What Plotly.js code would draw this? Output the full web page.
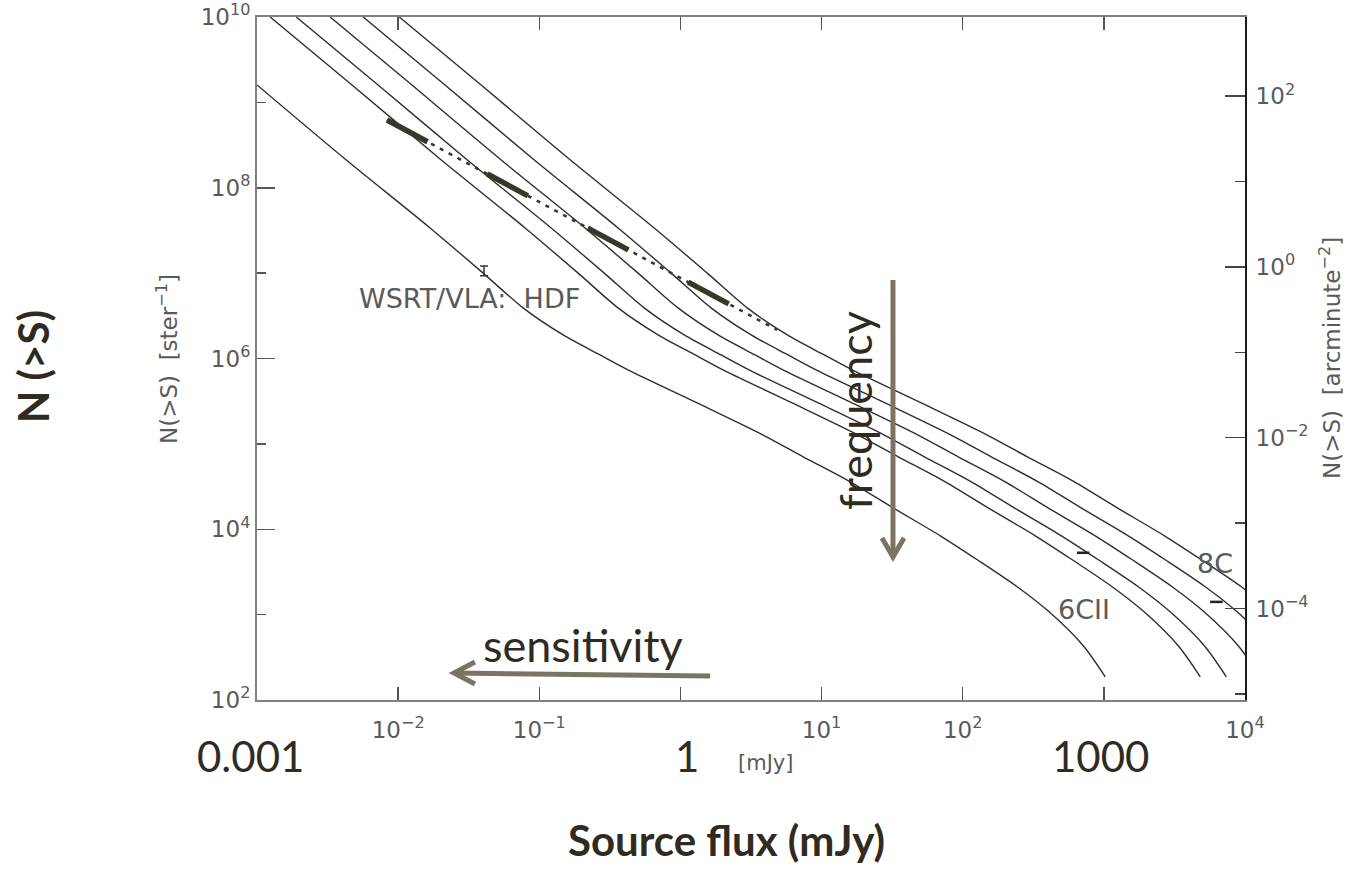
<!DOCTYPE html>
<html><head><meta charset="utf-8">
<script src="https://cdn.plot.ly/plotly-3.0.1.min.js"></script>
<style>html,body{margin:0;padding:0;background:#fff}</style>
</head><body><div id="chart" style="width:1346px;height:869px"></div>
<script>
// ---- data (S in mJy, N(>S) in sr^-1) ----
const countsA = [1.60e9, 2.17e8, 3.38e7, 1.00e7, 3.92e6, 1.89e6, 1.10e6, 7.16e5, 3.02e5, 1.27e5, 7.05e4, 3.59e4, 1.78e4, 8.38e3, 4.39e3, 2.12e3, 1.05e3, 432, 187];
const fluxA   = [0.001, 0.004207, 0.01683, 0.0400, 0.0767, 0.1476, 0.270, 0.4395, 1.312, 3.855, 7.413, 15.96, 32.14, 69.34, 126.8, 243.2, 416.9, 714.5, 1023];

const countsBF = [1e10, 1.60e9, 2.17e8, 3.38e7, 1.00e7, 3.92e6, 1.89e6, 1.10e6, 7.16e5, 3.02e5, 1.27e5, 7.05e4, 3.59e4, 1.78e4, 8.38e3, 4.39e3, 2.12e3, 1.05e3, 432, 187];
const fluxB = [0.001239, 0.00471, 0.01982, 0.0793, 0.1884, 0.3613, 0.695, 1.272, 2.070, 6.18, 18.16, 34.92, 75.2, 151.4, 326.6, 597, 1145, 1964, 3365, 4819];
const fluxC = [0.001897, 0.00721, 0.03034, 0.1214, 0.2884, 0.5531, 1.064, 1.947, 3.169, 9.46, 27.80, 53.46, 115.1, 231.8, 500, 914, 1754, 3006, 5152, 7377];
const fluxD = [0.003296, 0.01253, 0.0527, 0.2109, 0.501, 0.961, 1.849, 3.383, 5.507, 16.44, 48.30, 92.9, 200.0, 402.7, 868.8, 1589, 3047, 5224, 8953, 12818];
const fluxE = [0.005649, 0.02148, 0.0904, 0.3615, 0.859, 1.648, 3.170, 5.80, 9.44, 28.18, 82.8, 159.2, 342.8, 690.4, 1489, 2724, 5224, 8955, 15348, 21974];
const fluxF = [0.01019, 0.03873, 0.1629, 0.6518, 1.549, 2.971, 5.717, 10.46, 17.02, 50.81, 149.3, 287.1, 618.1, 1245, 2686, 4911, 9419, 16146, 27670, 39620];

const fluxDash   = [0.00834, 4.84];
const countsDash = [6.22e8, 2.16e6];

const fluxHDF = [0.0406], countsHDF = [1.06e7], errHDFup = [1.5e6], errHDFdn = [1.3e6];
const fluxSurvey = [714, 6270], countsSurvey = [5.3e3, 1.41e3];

const xTickVals = [1e-2, 1e-1, 10, 100, 1e4];
const xTickText = ['10<sup>\u22122</sup>', '10<sup>\u22121</sup>', '10<sup>1</sup>', '10<sup>2</sup>', '10<sup>4</sup>'];
const xMinorVals = [1, 1000];
const yTickVals = [1e2, 1e4, 1e6, 1e8, 1e10];
const yTickText = ['10<sup>2</sup>', '10<sup>4</sup>', '10<sup>6</sup>', '10<sup>8</sup>', '10<sup>10</sup>'];
const yMinorVals = [1e3, 1e5, 1e7, 1e9];
const y2TickVals = [1e-4, 1e-2, 1, 1e2];
const y2TickText = ['10<sup>\u22124</sup>', '10<sup>\u22122</sup>', '10<sup>0</sup>', '10<sup>2</sup>'];
const y2MinorVals = [1e-5, 1e-3, 1e-1, 10];

// ---- traces ----
const curveLine = {color: '#2e2e2e', width: 1.4, shape: 'spline', smoothing: 0.8};
const curves = [fluxA, fluxB, fluxC, fluxD, fluxE, fluxF].map((fx, i) => ({
  x: fx, y: i === 0 ? countsA : countsBF, type: 'scatter', mode: 'lines',
  line: curveLine, hoverinfo: 'skip', showlegend: false
}));

const traces = curves.concat([
  {x: fluxDash, y: countsDash, type: 'scatter', mode: 'lines', showlegend: false, hoverinfo: 'skip',
   line: {color: '#3a3628', width: 2.6, dash: '4px,6px'}},
  {x: fluxDash, y: countsDash, type: 'scatter', mode: 'lines', showlegend: false, hoverinfo: 'skip',
   line: {color: '#3a3628', width: 5.5, dash: '46px,68px'}},
  {x: fluxHDF, y: countsHDF, type: 'scatter', mode: 'markers', showlegend: false, hoverinfo: 'skip',
   marker: {size: 1, color: '#333'},
   error_y: {type: 'data', symmetric: false, array: errHDFup, arrayminus: errHDFdn, width: 4, thickness: 1.5, color: '#333'}},
  {x: fluxSurvey, y: countsSurvey, type: 'scatter', mode: 'markers', showlegend: false, hoverinfo: 'skip',
   marker: {symbol: 'line-ew', size: 9, line: {width: 2.5, color: '#222'}}}
]);

// ---- layout ----
const gray = '#5a5a5a';
const tickFont = {family: 'DejaVu Sans', size: 23, color: gray};
const olive = '#7b7462';
const dark = '#2f2b20';
function P(px, py) { return [(px - 257) / 988, (700 - py) / 683]; }
function ann(text, px, py, font, extra) {
  const p = P(px, py);
  return Object.assign({text: text, x: p[0], y: p[1], xref: 'paper', yref: 'paper',
    showarrow: false, xanchor: 'center', yanchor: 'middle', font: font}, extra || {});
}
const grayFont = s => ({family: 'DejaVu Sans', size: s, color: gray});
const slideFont = s => ({family: 'Lato', size: s, color: dark});
const slideBold = s => ({family: 'Lato', size: s, color: dark, weight: 'bold'});

function pathPaper(pts) {
  return pts.map((q, i) => { const p = P(q[0], q[1]); return (i ? 'L' : 'M') + p[0].toFixed(4) + ',' + p[1].toFixed(4); }).join(' ');
}

const layout = {
  width: 1346, height: 869,
  margin: {l: 257, r: 101, t: 17, b: 169},
  paper_bgcolor: '#ffffff', plot_bgcolor: '#ffffff',
  showlegend: false,
  xaxis: {
    type: 'log', range: [-3, 4], tickmode: 'array', tickvals: xTickVals, ticktext: xTickText,
    ticks: 'inside', ticklen: 13, tickwidth: 1.5, tickcolor: '#555',
    minor: {tickmode: 'array', tickvals: xMinorVals, ticks: 'inside', ticklen: 13, tickwidth: 1.5, tickcolor: '#555', showgrid: false},
    showline: true, linecolor: '#808080', linewidth: 2, mirror: 'ticks',
    showgrid: false, zeroline: false, tickfont: tickFont, ticklabelstandoff: 8
  },
  yaxis: {
    type: 'log', range: [2, 10], tickmode: 'array', tickvals: yTickVals, ticktext: yTickText,
    ticks: 'inside', ticklen: 18, tickwidth: 1.5, tickcolor: '#555',
    minor: {tickmode: 'array', tickvals: yMinorVals, ticks: 'inside', ticklen: 9, tickwidth: 1.5, tickcolor: '#555', showgrid: false},
    showline: true, linecolor: '#808080', linewidth: 2,
    showgrid: false, zeroline: false, tickfont: tickFont
  },
  yaxis2: {
    type: 'log', range: [-5.0725, 2.9275], overlaying: 'y', side: 'right', anchor: 'x',
    tickmode: 'array', tickvals: y2TickVals, ticktext: y2TickText,
    ticks: 'inside', ticklen: 20, tickwidth: 1.5, tickcolor: '#444',
    minor: {tickmode: 'array', tickvals: y2MinorVals, ticks: 'inside', ticklen: 10, tickwidth: 1.5, tickcolor: '#444', showgrid: false},
    showline: true, linecolor: '#1a1a1a', linewidth: 2,
    showgrid: false, zeroline: false, tickfont: tickFont, ticklabelstandoff: 4
  },
  annotations: [
    ann('WSRT/VLA:\u00a0\u00a0HDF', 357, 298, grayFont(27), {xanchor: 'left'}),
    ann('6CII', 1084, 609, grayFont(27)),
    ann('8C', 1215, 563, grayFont(27)),
    ann('[mJy]', 765, 763, grayFont(21)),
    ann('N(&gt;S)  [ster<sup>\u22121</sup>]', 167, 359, grayFont(23), {textangle: -90}),
    ann('N(&gt;S)  [arcminute<sup>\u22122</sup>]', 1330, 358, grayFont(23), {textangle: -90}),
    ann('frequency', 855, 411, slideFont(45), {textangle: -90}),
    ann('sensitivity', 583, 645, slideFont(45)),
    ann('0.001', 250, 756, slideFont(42)),
    ann('1', 687, 756, slideFont(42)),
    ann('1000', 1100, 756, slideFont(42)),
    ann('<b>Source flux (mJy)</b>', 726, 840, slideBold(42)),
    ann('<b>N (&gt;S)</b>', 33, 367, slideBold(42), {textangle: -90})
  ],
  shapes: [
    {type: 'path', xref: 'paper', yref: 'paper', path: pathPaper([[893, 280], [893, 556]]), line: {color: olive, width: 5}},
    {type: 'path', xref: 'paper', yref: 'paper', path: pathPaper([[882, 538], [893, 557], [904, 538]]), line: {color: olive, width: 5}},
    {type: 'path', xref: 'paper', yref: 'paper', path: pathPaper([[455, 673], [710, 676]]), line: {color: olive, width: 5}},
    {type: 'path', xref: 'paper', yref: 'paper', path: pathPaper([[475, 662], [454, 673], [475, 684]]), line: {color: olive, width: 5}}
  ]
};

// empty trace that registers the right-hand (arcminute) axis
traces.push({x: [], y: [], yaxis: 'y2', type: 'scatter', mode: 'lines', showlegend: false, hoverinfo: 'skip'});

Plotly.newPlot('chart', traces, layout, {displayModeBar: false, staticPlot: true});
</script>
</body></html>
